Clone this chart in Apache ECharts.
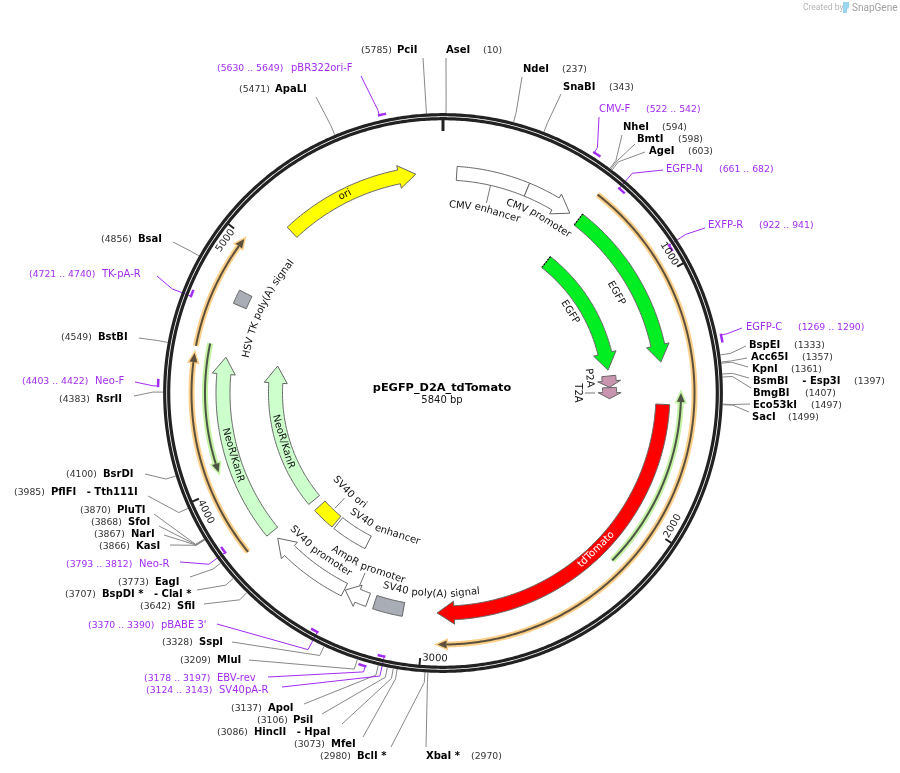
<!DOCTYPE html>
<html>
<head>
<meta charset="utf-8">
<title>pEGFP_D2A_tdTomato</title>
<script src="https://cdn.jsdelivr.net/npm/echarts@6/dist/echarts.min.js"></script>
<style>
html,body{margin:0;padding:0;background:#fff;}
#main{width:900px;height:773px;}
</style>
</head>
<body>
<div id="main"></div>
<script>
var plasmidName = "pEGFP_D2A_tdTomato";
var plasmidLength = 5840;
var tickValues = [1000, 2000, 3000, 4000, 5000];

// name, bp
var sites = [
	["AseI", 10], ["NdeI", 237], ["SnaBI", 343], ["NheI", 594], ["BmtI", 598], ["AgeI", 603],
	["BspEI", 1333], ["Acc65I", 1357], ["KpnI", 1361], ["BsmBI    - Esp3I", 1397], ["BmgBI", 1407],
	["Eco53kI", 1497], ["SacI", 1499], ["XbaI *", 2970], ["BclI *", 2980], ["MfeI", 3073],
	["HincII   - HpaI", 3086], ["PsiI", 3106], ["ApoI", 3137], ["MluI", 3209], ["SspI", 3328],
	["SfiI", 3642], ["BspDI *   - ClaI *", 3707], ["EagI", 3773], ["KasI", 3866], ["NarI", 3867],
	["SfoI", 3868], ["PluTI", 3870], ["PflFI   - Tth111I", 3985], ["BsrDI", 4100], ["RsrII", 4383],
	["BstBI", 4549], ["BsaI", 4856], ["ApaLI", 5471], ["PciI", 5785]
];

// name, start, end
var primers = [
	["CMV-F", 522, 542], ["EGFP-N", 661, 682], ["EXFP-R", 922, 941], ["EGFP-C", 1269, 1290],
	["SV40pA-R", 3124, 3143], ["EBV-rev", 3178, 3197], ["pBABE 3'", 3370, 3390], ["Neo-R", 3793, 3812],
	["Neo-F", 4403, 4422], ["TK-pA-R", 4721, 4740], ["pBR322ori-F", 5630, 5649]
];

// name, start, end, direction
var features = [
	["CMV enhancer", 58, 364, 0], ["CMV promoter", 364, 571, 1], ["EGFP", 616, 1329, 1], ["EGFP", 620, 1332, 1],
	["P2A", 1365, 1428, 1], ["T2A", 1430, 1492, 1], ["tdTomato", 1508, 2945, 1], ["SV40 poly(A) signal", 3088, 3213, 0],
	["AmpR promoter", 3243, 3348, 1], ["SV40 promoter", 3352, 3710, 1], ["SV40 enhancer", 3352, 3550, 0],
	["SV40 ori", 3563, 3691, 0], ["NeoR/KanR", 3746, 4532, 1], ["NeoR/KanR", 3736, 4530, 1],
	["HSV TK poly(A) signal", 4756, 4815, 0], ["ori", 5139, 5725, 1]
];

// thin translated arrows: start, end, direction
var orangeArrows = [[615, 2940, 1], [3744, 4528, 1], [4555, 4993, 1]];
var greenArrows = [[1460, 2185, -1], [4064, 4575, -1]];

// ---- layout and styles, separate from the values above ----
var centerX = 443, centerY = 393;
var ringRadii = [278.3, 274.3];
var elbowR = 290;
var fontName = '"DejaVu Sans", Verdana, sans-serif';
var purple = "#a32cf4";
var stroke = "#666";

// radius and fill per feature, same order as features
var featureStyle = [
	[220, "#fff"], [220, "#fff"], [220, "#00ee22"], [166.6, "#00ee22"], [166.6, "#c994b0"], [166.6, "#c994b0"],
	[220, "#ff0000"], [220, "#a9adb5"], [220, "#fff"], [220, "#fff"], [167, "#fff"], [167, "#ffff00"],
	[220, "#ccffcc"], [167.5, "#ccffcc"], [221, "#a9adb5"], [220.5, "#ffff00"]
];
// text, bp of middle, radius
var featureLabels = [
	["CMV enhancer", 209, 188], ["CMV promoter", 465, 201], ["EGFP", 974, 200], ["EGFP", 933, 150.6],
	["P2A", 1365, 147], ["T2A", 1460, 135], ["tdTomato", 2200, 219], ["SV40 poly(A) signal", 2975, 201],
	["AmpR promoter", 3301, 190], ["SV40 promoter", 3532, 202], ["SV40 enhancer", 3300, 149], ["SV40 ori", 3620, 137],
	["NeoR/KanR", 4113, 219], ["NeoR/KanR", 4105, 167], ["HSV TK poly(A) signal", 4797, 200], ["ori", 5413, 221]
];
// short pointer from feature to its text: bp, r1, r2
var featureLeaders = [[209, 213, 195], [1460, 152, 142], [3300, 210, 196], [3620, 158, 144]];
// thin arrow radii
var orangeR = 251.5, greenR = 238;

// site text: nameX, numberX, y, end of leader x, y
var siteText = {
	"AseI": [446, 483, 50, 446, 58], "NdeI": [523, 562, 69, 522, 77], "SnaBI": [563, 609, 87, 561, 94],
	"NheI": [623, 662, 127, 622, 135], "BmtI": [637, 678, 139, 635, 144], "AgeI": [649, 688, 151, 645, 152],
	"BspEI": [749, 794, 345, 746, 346], "Acc65I": [751, 802, 357, 747, 358], "KpnI": [752, 791, 369, 748, 367],
	"BsmBI    - Esp3I": [753, 854, 381, 749, 378], "BmgBI": [753, 805, 393, 751, 388],
	"Eco53kI": [753, 811, 405, 750, 404], "SacI": [752, 788, 417, 749, 412],
	"XbaI *": [426, 471, 756, 426, 747], "BclI *": [357, 320, 756, 391, 747], "MfeI": [331, 294, 744, 363, 737],
	"HincII   - HpaI": [254, 217, 732, 342, 724], "PsiI": [293, 257, 720, 322, 714], "ApoI": [268, 231, 708, 304, 704],
	"MluI": [217, 180, 660, 249, 660], "SspI": [199, 162, 642, 232, 642], "SfiI": [177, 140, 606, 204, 604],
	"BspDI *   - ClaI *": [102, 65, 594, 197, 590], "EagI": [155, 118, 582, 190, 577], "KasI": [136, 99, 546, 170, 545],
	"NarI": [131, 94, 534, 164, 535], "SfoI": [128, 91, 522, 159, 526], "PluTI": [117, 80, 510, 154, 514],
	"PflFI   - Tth111I": [51, 14, 492, 148, 496], "BsrDI": [103, 66, 474, 145, 474], "RsrII": [96, 59, 399, 134, 396],
	"BstBI": [98, 61, 337, 139, 338], "BsaI": [138, 101, 239, 173, 242], "ApaLI": [275, 239, 89, 316, 97],
	"PciI": [397, 361, 50, 423, 58]
};
// primer text: nameX, numberX, y, end of leader x, y, radius of the mark
var primerText = {
	"CMV-F": [599, 646, 109, 599, 117, 284], "EGFP-N": [666, 719, 169, 663, 170, 270], "EXFP-R": [708, 759, 225, 705, 228, 270],
	"EGFP-C": [746, 798, 327, 742, 328, 284], "SV40pA-R": [219, 146, 690, 282, 687, 270], "EBV-rev": [217, 144, 678, 268, 677, 284],
	"pBABE 3'": [161, 88, 625, 217, 624, 270], "Neo-R": [139, 66, 564, 180, 562, 270], "Neo-F": [95, 22, 381, 135, 382, 285],
	"TK-pA-R": [102, 29, 274, 157, 276, 270], "pBR322ori-F": [291, 217, 68, 361, 76, 285]
};

var measureCtx = document.createElement("canvas").getContext("2d");
var perBp = 360 / plasmidLength;

function textEl(x, y, text, size, color, weight, align, rot) {
	return {
		type: "text", x: x, y: y, rotation: rot || 0, silent: true,
		style: {
			text: text, fontSize: size, fontFamily: fontName, fontWeight: weight || "normal",
			fill: color, align: align || "left", verticalAlign: "middle"
		}
	};
}
function lineEl(points, color, width, dash) {
	return {
		type: "polyline", silent: true, shape: { points: points },
		style: { fill: null, stroke: color, lineWidth: width, lineDash: dash || null }
	};
}
// sample an arc through the polar axes
function arc(api, r, from, to) {
	var n = Math.max(2, Math.ceil(Math.abs(to - from) / 8)), pts = [];
	for (var i = 0; i <= n; i++) {
		pts.push(api.coord([r, from + (to - from) * i / n]));
	}
	return pts;
}
// px along the arc to bp
function pxToBp(px, r) {
	return px / r * plasmidLength / (2 * Math.PI);
}
function rotationAt(bp) {
	var deg = bp * perBp;
	if (deg > 90.5 && deg < 270) deg -= 180;
	return -deg * Math.PI / 180;
}
// text following the circle word by word
function arcText(api, text, bp, r, color, size) {
	var deg = bp * perBp, flip = deg > 90.5 && deg < 270, out = [];
	measureCtx.font = size + "px " + fontName;
	var words = text.split(" "), space = measureCtx.measureText(" ").width;
	var total = measureCtx.measureText(text).width, s = -total / 2;
	for (var i = 0; i < words.length; i++) {
		var w = measureCtx.measureText(words[i]).width;
		var wordBp = bp + (flip ? -1 : 1) * pxToBp(s + w / 2, r);
		var p = api.coord([r, wordBp]);
		out.push(textEl(p[0], p[1], words[i], size, color, "normal", "center", rotationAt(wordBp)));
		s += w + space;
	}
	return out;
}

function renderRing(params, api) {
	var kids = [];
	for (var i = 0; i < ringRadii.length; i++) {
		kids.push(lineEl(arc(api, ringRadii[i], 0, plasmidLength), "#222", 3.2));
	}
	var top = [api.coord([262, 0]), api.coord([275, 0])];
	kids.push(lineEl(top, "#222", 3));
	return { type: "group", children: kids };
}
function renderTick(params, api) {
	var v = api.value(1);
	var p = api.coord([265.5, v - 52]);
	return {
		type: "group", children: [
			lineEl([api.coord([266, v]), api.coord([274, v])], "#222", 2),
			textEl(p[0], p[1], String(v), 10, "#222", "normal", "center", rotationAt(v - 52))
		]
	};
}
function renderSite(params, api) {
	var s = sites[params.dataIndex], t = siteText[s[0]], bp = api.value(1);
	return {
		type: "group", children: [
			lineEl([api.coord([280, bp]), api.coord([elbowR, bp]), [t[3], t[4]]], "#888", 1),
			textEl(t[0], t[2] + 0.5, s[0], 10, "#000", "bold"),
			textEl(t[1], t[2] + 0.5, "(" + s[1] + ")", 9.3, "#333")
		]
	};
}
function renderPrimer(params, api) {
	var s = primers[params.dataIndex], t = primerText[s[0]], from = api.value(0), to = api.value(1);
	var mark = lineEl(arc(api, t[5], from, to), purple, 2.5);
	mark.style.lineCap = "square";
	return {
		type: "group", children: [
			lineEl([api.coord([t[5], from]), api.coord([elbowR, from]), [t[3], t[4]]], purple, 1),
			mark,
			textEl(t[0], t[2] + 0.5, s[0], 10, purple),
			textEl(t[1], t[2] + 0.5, "(" + s[1] + " .. " + s[2] + ")", 9.3, purple)
		]
	};
}
function renderFeature(params, api) {
	var i = params.dataIndex, st = featureStyle[i], r = st[0], half = 7, dir = features[i][3];
	var from = api.value(0), to = api.value(1), pts;
	if (dir === 0) {
		pts = arc(api, r + half, from, to).concat(arc(api, r - half, to, from));
	} else {
		var lenPx = Math.abs(to - from) * 2 * Math.PI * r / plasmidLength;
		var head = pxToBp(Math.min(17, lenPx * 0.55), r) * (to > from ? 1 : -1);
		var base = to - head;
		pts = arc(api, r + half, from, base);
		pts.push(api.coord([r + 11.5, base]), api.coord([r, to]), api.coord([r - 11.5, base]));
		pts = pts.concat(arc(api, r - half, base, from));
	}
	var kids = [{
		type: "polygon", silent: true, shape: { points: pts },
		style: { fill: st[1], stroke: stroke, lineWidth: 1 }
	}];
	// the two EGFP pieces start with a dotted cut edge
	if (features[i][0] === "EGFP") {
		kids.push(lineEl([api.coord([r + half, from]), api.coord([r - half, from])], "#000", 1.2, [1.5, 1.5]));
	}
	return { type: "group", children: kids };
}
function renderFeatureLabel(params, api) {
	var l = featureLabels[params.dataIndex];
	return { type: "group", children: arcText(api, l[0], l[1], l[2], l[0] === "tdTomato" ? "#fff" : "#111", 10) };
}
function renderPointer(params, api) {
	var l = featureLeaders[params.dataIndex];
	return lineEl([api.coord([l[1], l[0]]), api.coord([l[2], l[0]])], "#777", 1);
}
function thinArrow(api, r, from, to, halo, dark) {
	var head = pxToBp(9, r) * (to > from ? 1 : -1), base = to - head;
	var tri = [api.coord([r + 4, base]), api.coord([r, to]), api.coord([r - 4, base])];
	var body = arc(api, r, from, base);
	return {
		type: "group", children: [
			lineEl(body, halo, 6),
			{ type: "polygon", silent: true, shape: { points: tri }, style: { fill: halo, stroke: halo, lineWidth: 3 } },
			lineEl(body, dark, 2),
			{ type: "polygon", silent: true, shape: { points: tri }, style: { fill: dark, stroke: null } }
		]
	};
}
function renderOrange(params, api) {
	var a = orangeArrows[params.dataIndex];
	return a[2] > 0 ? thinArrow(api, orangeR, a[0], a[1], "#fcd08a", "#5c4f3c") : thinArrow(api, orangeR, a[1], a[0], "#fcd08a", "#5c4f3c");
}
function renderGreen(params, api) {
	var a = greenArrows[params.dataIndex];
	return a[2] > 0 ? thinArrow(api, greenR, a[0], a[1], "#c4f3a4", "#4c5446") : thinArrow(api, greenR, a[1], a[0], "#c4f3a4", "#4c5446");
}
function customSeries(data, render) {
	return { type: "custom", coordinateSystem: "polar", data: data, renderItem: render, animation: false, silent: true, clip: false };
}

var chart = echarts.init(document.getElementById("main"), null, { renderer: "canvas" });
chart.setOption({
	backgroundColor: "#fff",
	animation: false,
	polar: { center: [centerX, centerY], radius: 300 },
	angleAxis: {
		type: "value", min: 0, max: plasmidLength, startAngle: 90, clockwise: true,
		axisLine: { show: false }, axisTick: { show: false }, axisLabel: { show: false }, splitLine: { show: false }
	},
	radiusAxis: {
		type: "value", min: 0, max: 300,
		axisLine: { show: false }, axisTick: { show: false }, axisLabel: { show: false }, splitLine: { show: false }
	},
	graphic: [
		{ type: "text", x: 803, y: 8, silent: true, style: { text: "Created by", fontSize: 8.5, fontFamily: "Roboto", fill: "#b5b5b5", verticalAlign: "middle" } },
		{ type: "polygon", silent: true, shape: { points: [[843, 2], [849, 2], [849, 8], [847, 9], [847, 13], [843, 13]] }, style: { fill: "#9ad6f0" } },
		{ type: "text", x: 852, y: 8, silent: true, style: { text: "SnapGene", fontSize: 10, fontFamily: "Roboto", fill: "#a0a0a0", verticalAlign: "middle" } },
		{ type: "text", x: 442, y: 388, silent: true, style: { text: plasmidName, fontSize: 11.3, fontWeight: "bold", fontFamily: fontName, fill: "#000", align: "center", verticalAlign: "middle" } },
		{ type: "text", x: 442, y: 400, silent: true, style: { text: plasmidLength + " bp", fontSize: 10, fontFamily: fontName, fill: "#111", align: "center", verticalAlign: "middle" } }
	],
	series: [
		customSeries(sites.map(function (s) { return [0, s[1]]; }), renderSite),
		customSeries(primers.map(function (p) { return [p[1], p[2]]; }), renderPrimer),
		customSeries([[0, 0]], renderRing),
		customSeries(tickValues.map(function (v) { return [0, v]; }), renderTick),
		customSeries(orangeArrows, renderOrange),
		customSeries(greenArrows, renderGreen),
		customSeries(features.map(function (f) { return [f[1], f[2]]; }), renderFeature),
		customSeries(featureLeaders, renderPointer),
		customSeries(featureLabels.map(function (l) { return [l[2], l[1]]; }), renderFeatureLabel)
	]
});
</script>
</body>
</html>
